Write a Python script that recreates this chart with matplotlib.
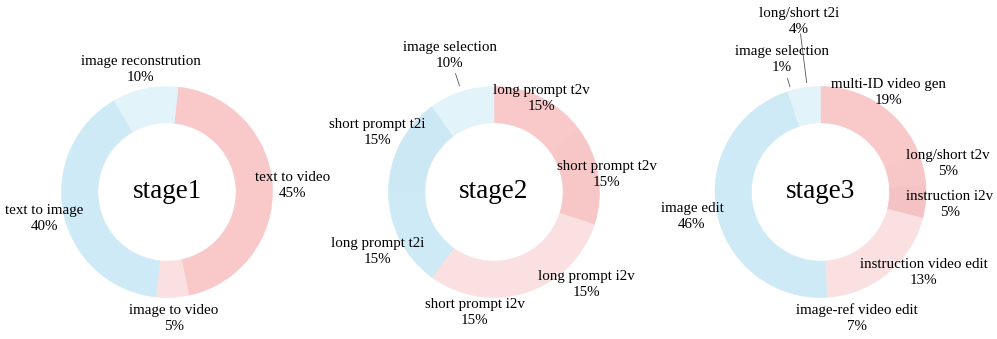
import numpy as np
import matplotlib
matplotlib.use('Agg')
import matplotlib.pyplot as plt

plt.rcParams['font.family'] = ['Liberation Serif', 'DejaVu Serif']

# Colores
PINK = '#F9C9CA'
PINK2 = '#F7C6C7'
PINK3 = '#F5C2C3'
LPINK = '#FBE0E1'
BLUE = '#CDEAF6'
BLUE2 = '#CBE8F4'
LBLUE = '#E3F3FA'

# Datos
stage1_labels = ['text to video', 'image to video', 'text to image', 'image reconstrution']
stage1_values = [45, 5, 40, 10]

stage2_labels = ['long prompt t2v', 'short prompt t2v', 'long prompt i2v', 'short prompt i2v',
                 'long prompt t2i', 'short prompt t2i', 'image selection']
stage2_values = [15, 15, 15, 15, 15, 15, 10]

stage3_labels = ['multi-ID video gen', 'long/short t2v', 'instruction i2v', 'instruction video edit',
                 'image-ref video edit', 'image edit', 'image selection', 'long/short t2i']
stage3_values = [19, 5, 5, 13, 7, 46, 1, 4]

stages = [
    dict(title='stage1', labels=stage1_labels, values=stage1_values, start=84, cx=167,
         colors=[PINK, LPINK, BLUE, LBLUE],
         dist=[1.19, 1.20, 1.19, 1.19], leaders={}),
    dict(title='stage2', labels=stage2_labels, values=stage2_values, start=90, cx=494,
         colors=[PINK, PINK2, LPINK, LPINK, BLUE, BLUE2, LBLUE],
         dist=[0.99, 1.08, 1.24, 1.16, 1.24, 1.24, 1.36], leaders={6: (1.06, 1.18)}),
    dict(title='stage3', labels=stage3_labels, values=stage3_values, start=90, cx=820.5,
         colors=[PINK, PINK2, PINK3, LPINK, LPINK, BLUE, LBLUE, LBLUE],
         dist=[1.14, 1.24, 1.23, 1.24, 1.24, 1.24, 1.31, 1.63],
         leaders={6: (1.04, 1.12), 7: (1.045, 1.51)}),
]

W, H = 997, 339
R = 105.5      # radio en pixeles
CY = 192       # centro desde arriba
HALF = 160

fig = plt.figure(figsize=(W / 100, H / 100), dpi=100)

for st in stages:
    ax = fig.add_axes([(st['cx'] - HALF) / W, 0, 2 * HALF / W, 1])
    vals = np.array(st['values'], dtype=float)
    wedges, _ = ax.pie(vals, colors=st['colors'], startangle=st['start'], counterclock=False,
                       radius=1, wedgeprops=dict(width=0.345))
    for w, c in zip(wedges, st['colors']):
        w.set_edgecolor(c)
        w.set_linewidth(0.4)
    ax.set_aspect('auto')
    ax.set_xlim(-HALF / R, HALF / R)
    ax.set_ylim(-(H - CY) / R, CY / R)
    ax.axis('off')

    # etiquetas
    cum = np.cumsum(vals) - vals / 2
    mids = np.deg2rad(st['start'] - 360 * cum / vals.sum())
    for i, (lab, v) in enumerate(zip(st['labels'], st['values'])):
        d = st['dist'][i]
        ax.text(d * np.cos(mids[i]), d * np.sin(mids[i]), f'{lab}\n{v}%',
                ha='center', va='center', fontsize=10.8, linespacing=1.3)
        if i in st['leaders']:
            r0, r1 = st['leaders'][i]
            ax.plot([r0 * np.cos(mids[i]), r1 * np.cos(mids[i])],
                    [r0 * np.sin(mids[i]), r1 * np.sin(mids[i])],
                    color='#555555', lw=0.6)

    ax.text(0, 0, st['title'], ha='center', va='center', fontsize=19.5)

plt.savefig('out.png', dpi=100)
